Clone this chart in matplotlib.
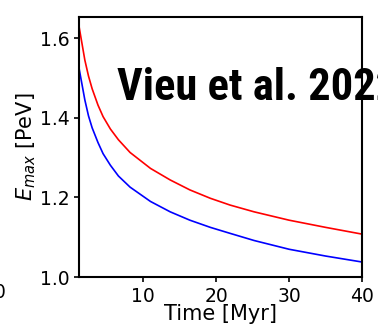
import numpy as np
import matplotlib
matplotlib.use('Agg')
import matplotlib.pyplot as plt

# Maximum energy vs time
time_myr = [1.2, 2.0, 2.5, 3.0, 3.8, 4.5, 5.5, 6.6, 8.2, 11.0, 13.7, 16.4, 19.2, 21.9,
            25.2, 30.0, 35.0, 40.0]
emax_red = [1.63, 1.545, 1.505, 1.473, 1.432, 1.403, 1.372, 1.345, 1.313, 1.273, 1.244, 1.219,
            1.198, 1.181, 1.164, 1.143, 1.125, 1.108]
emax_blue = [1.525, 1.445, 1.405, 1.375, 1.338, 1.31, 1.281, 1.254, 1.226, 1.19, 1.164, 1.143,
             1.125, 1.110, 1.092, 1.070, 1.053, 1.038]

xticks = [10, 20, 30, 40]
yticks = [1.0, 1.2, 1.4, 1.6]

fig = plt.figure(figsize=(3.78, 3.28), dpi=100)
ax = fig.add_axes([0.209, 0.155, 0.749, 0.793])

ax.plot(time_myr, emax_red, color='red', lw=1.2)
ax.plot(time_myr, emax_blue, color='blue', lw=1.2)

ax.set_xlim(1.2, 40)
ax.set_ylim(1.0, 1.653)
ax.set_xticks(xticks)
ax.set_yticks(yticks)
ax.set_yticklabels(['%.1f' % v for v in yticks])
ax.tick_params(labelsize=13.5, width=1.2, length=3.5)
for s in ax.spines.values():
    s.set_linewidth(1.5)

ax.set_xlabel('Time [Myr]', fontsize=15, labelpad=-1)
ax.set_ylabel(r'$E_{max}$ [PeV]', fontsize=15, labelpad=1)

# label pasted over the panel
fig.text(0.31, 0.695, 'Vieu et al. 2022', fontsize=32, fontweight='bold',
         family=['Roboto Condensed', 'Liberation Sans Narrow', 'DejaVu Sans'],
         fontstretch='condensed', color='black')

# leftover tick label of the neighbouring panel
fig.text(0.016, 0.107, '40', fontsize=13.5, ha='right', va='center')

fig.savefig('out.png', dpi=100)
